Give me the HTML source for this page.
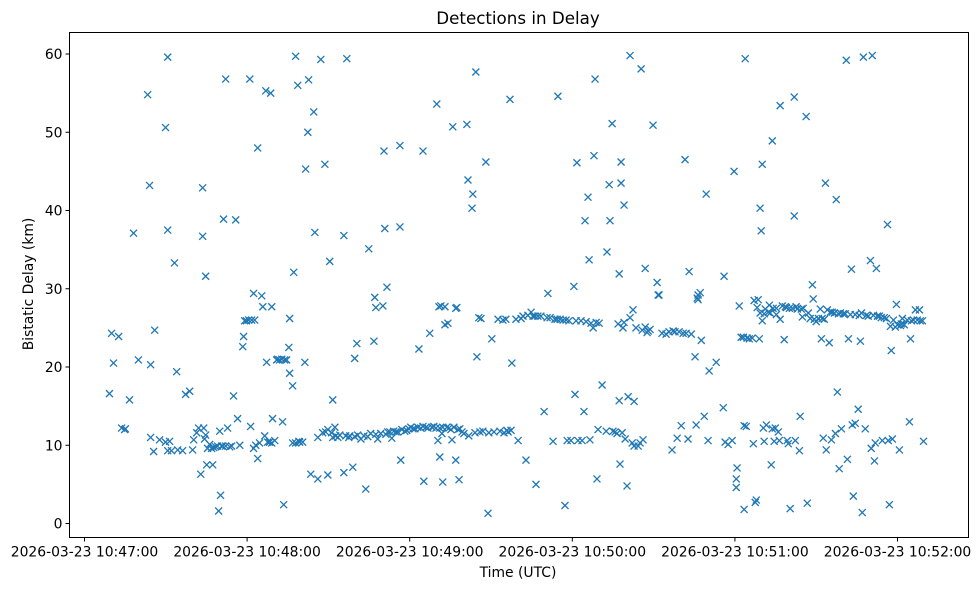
<!DOCTYPE html>
<html><head><meta charset="utf-8">
<style>
body{margin:0;background:#fff;}
svg{display:block;font-family:"DejaVu Sans","Liberation Sans",sans-serif;}
</style></head>
<body>
<svg id="chart" width="979" height="590">
<text x="518" y="24" text-anchor="middle" font-size="16.7">Detections in Delay</text>
<text x="518" y="577" text-anchor="middle" font-size="13.9">Time (UTC)</text>
<text transform="translate(33,284) rotate(-90)" text-anchor="middle" font-size="13.9">Bistatic Delay (km)</text>
<g id="marks"></g>
<g id="axes"></g>
</svg>
<script>
const xTickLabels=["2026-03-23 10:47:00","2026-03-23 10:48:00","2026-03-23 10:49:00","2026-03-23 10:50:00","2026-03-23 10:51:00","2026-03-23 10:52:00"];
const xTickSeconds=[0,60,120,180,240,300];
const yTicks=[0,10,20,30,40,50,60];
// seconds after 10:47:00
const times=[9.2,10.0,10.7,12.6,13.7,14.8,15.1,16.6,18.1,19.9,23.3,24.0,24.4,24.4,25.5,25.9,27.7,29.9,30.7,30.7,29.9,30.7,31.4,32.1,33.2,34.0,34.4,36.2,37.3,38.8,39.9,40.3,41.4,42.1,42.9,43.6,43.6,44.0,44.3,44.7,44.7,45.1,45.4,46.2,46.9,47.3,47.7,48.4,49.1,49.5,49.9,50.2,50.6,51.0,51.3,52.1,52.1,52.8,53.6,54.3,55.0,55.8,56.5,57.3,58.4,58.7,59.1,59.8,60.6,61.0,61.3,61.7,62.4,62.4,62.8,63.2,63.9,63.9,64.6,65.4,65.8,66.5,66.9,67.2,67.6,68.3,68.7,69.1,69.1,69.4,70.2,70.9,71.3,72.0,72.8,73.1,73.5,73.9,74.6,75.4,75.7,75.7,76.8,76.8,77.2,77.9,77.9,78.7,79.1,79.4,80.5,81.3,81.6,82.4,82.7,83.5,84.6,85.0,86.1,86.1,87.2,87.9,88.7,89.0,89.8,89.8,90.5,91.2,91.6,91.6,92.4,92.7,93.5,94.2,95.7,95.7,96.4,96.8,97.5,97.9,99.0,99.7,99.7,100.5,100.8,102.0,103.1,103.8,104.5,104.9,105.6,106.8,107.1,107.5,107.5,108.2,109.3,110.1,110.5,110.8,111.2,111.6,111.9,112.7,113.4,114.1,114.9,115.6,116.4,116.4,116.7,117.1,118.2,118.9,119.7,120.4,121.2,121.9,123.0,123.4,124.1,124.9,124.9,125.2,126.0,126.7,127.4,128.2,128.9,129.7,130.0,130.4,130.8,131.1,131.1,131.5,131.9,132.2,132.2,133.0,133.0,133.7,134.1,134.5,135.2,135.6,135.9,136.3,137.0,137.0,137.4,137.8,138.2,138.5,139.3,140.0,141.1,141.5,141.8,143.0,143.3,144.1,144.4,144.8,145.5,145.9,146.3,147.0,148.1,148.9,149.2,150.3,151.1,152.6,153.3,154.4,154.8,155.5,155.9,156.3,157.0,157.4,157.7,159.2,160.0,161.1,161.8,162.9,163.6,164.8,165.5,166.2,166.6,167.3,168.4,169.6,170.7,171.0,171.8,172.9,173.6,174.4,174.7,175.5,176.6,177.3,177.7,178.1,178.8,179.5,180.6,181.0,181.4,181.7,182.1,183.2,183.6,184.3,184.7,185.1,185.8,186.2,186.5,186.9,187.7,188.0,188.4,188.8,189.1,189.5,189.9,191.0,192.5,192.8,193.6,193.9,194.7,195.0,195.8,196.5,196.9,197.3,197.3,197.6,198.0,198.0,198.4,198.7,199.1,199.1,199.5,200.2,200.6,201.3,201.3,202.1,202.4,202.8,202.8,203.5,204.3,205.0,205.4,205.8,206.1,206.9,206.9,207.6,208.0,208.7,209.8,211.3,211.7,212.0,213.1,214.6,215.7,216.8,217.2,217.9,218.7,219.4,220.2,220.9,221.6,222.0,222.7,223.1,223.9,225.3,225.7,226.1,226.4,226.4,227.2,227.6,228.7,229.4,230.1,230.5,233.1,235.7,236.0,236.4,237.5,239.0,239.7,240.5,240.5,240.8,241.6,242.3,243.1,243.4,243.4,243.8,244.2,244.5,245.3,246.4,246.8,247.1,247.5,247.9,248.2,248.6,249.0,249.3,249.3,249.7,250.1,250.1,250.5,250.8,250.8,251.2,251.6,252.3,252.7,253.0,253.4,253.8,253.8,254.1,254.5,254.9,255.3,255.3,256.0,256.4,256.7,256.7,257.5,258.2,258.6,259.0,259.3,259.7,260.1,260.4,261.2,261.9,261.9,262.3,262.6,263.0,263.8,264.1,264.5,264.9,265.2,266.3,266.7,267.1,267.8,268.6,268.9,269.3,270.0,270.8,271.5,271.9,272.2,272.6,273.0,273.4,273.7,274.1,274.8,275.2,275.6,275.9,276.7,277.1,277.4,277.8,278.2,278.5,278.9,279.3,280.0,280.7,281.1,281.5,281.9,282.6,283.0,283.3,283.7,284.4,284.4,285.5,285.9,286.3,286.7,287.0,287.4,288.1,288.5,289.2,290.0,290.3,290.7,291.1,291.5,291.8,292.2,292.6,293.3,294.0,294.4,295.1,295.9,296.3,296.6,297.0,297.4,297.7,298.1,298.5,299.2,299.6,300.0,300.7,301.1,301.4,301.8,302.5,303.6,304.4,304.8,305.1,305.9,306.6,307.3,308.1,308.4,309.2,309.6];
// bistatic delay in km
const delays=[16.6,24.3,20.5,23.9,12.2,12.0,12.1,15.8,37.1,20.9,54.8,43.2,20.3,11.0,9.2,24.7,10.7,50.6,59.6,37.5,10.4,9.3,10.5,9.3,33.3,19.4,9.4,9.3,16.5,16.9,9.4,10.7,11.6,12.2,6.3,42.9,36.7,12.2,10.8,31.6,11.3,7.5,9.6,10.1,9.6,7.5,9.7,9.8,9.9,1.6,11.8,3.6,9.9,9.9,38.9,9.9,56.8,12.2,9.8,9.9,16.3,38.8,13.4,10.0,22.6,23.9,25.9,25.9,26.0,56.8,12.4,26.0,29.4,9.6,26.0,10.0,48.0,8.3,10.3,29.1,27.7,11.2,55.3,20.6,10.4,10.4,55.0,27.7,10.3,13.4,10.6,20.9,21.0,20.9,21.0,13.0,2.4,20.9,20.9,22.5,26.2,19.2,17.6,10.3,32.1,59.7,10.3,56.0,10.5,10.4,10.4,20.6,45.3,50.0,56.7,6.3,52.6,37.2,5.7,11.0,59.3,11.6,45.9,11.7,6.2,12.0,33.5,11.6,11.0,15.8,12.3,11.2,11.0,11.3,36.8,6.5,11.2,59.4,11.0,11.2,7.2,11.1,21.1,23.0,11.3,10.8,11.2,4.4,11.1,35.1,11.5,23.3,28.9,27.6,11.4,10.8,11.5,27.8,47.6,37.7,11.4,30.2,11.7,11.7,10.9,11.8,11.7,11.7,48.3,37.9,8.1,12.0,11.8,11.9,12.1,12.3,12.1,12.1,12.3,22.3,12.2,12.4,47.6,5.4,12.3,12.2,24.3,12.3,12.4,12.2,53.6,10.6,27.7,8.5,12.2,27.8,11.5,5.3,12.3,27.7,25.4,12.3,25.6,12.2,12.0,10.7,50.7,12.3,8.1,27.5,27.6,12.0,5.6,12.1,11.7,11.5,51.0,43.9,11.2,40.3,42.1,11.6,57.7,21.3,26.3,11.7,26.2,11.8,46.2,1.3,11.6,23.6,11.7,26.1,11.8,26.0,11.6,26.1,11.9,11.7,54.2,11.9,20.5,26.1,10.6,26.2,26.5,8.1,26.6,27.0,26.5,26.5,5.0,26.5,26.5,14.3,26.3,29.4,26.3,10.5,26.1,26.1,54.6,26.1,26.0,2.3,26.0,10.6,25.9,10.6,30.3,16.5,25.9,46.1,10.6,25.9,10.6,14.3,38.7,25.8,41.7,33.7,10.7,25.6,25.0,47.0,56.8,25.7,5.7,12.0,25.6,17.7,11.8,34.7,43.3,38.7,51.1,11.8,11.7,11.5,25.5,15.7,31.9,7.6,46.2,43.5,11.6,25.0,40.7,25.7,10.8,4.8,16.2,26.3,59.8,10.3,27.3,15.6,9.9,25.0,9.9,10.3,58.1,24.7,10.7,32.6,25.1,24.4,24.6,24.8,50.9,30.8,29.2,29.2,24.3,24.2,24.5,9.4,24.6,24.5,10.9,24.5,12.5,24.3,46.5,24.3,10.8,32.2,24.2,21.3,12.6,28.8,29.2,28.6,29.5,23.4,13.7,42.1,10.6,19.5,20.6,14.8,31.6,10.4,10.1,10.6,45.0,5.7,4.6,7.1,27.8,23.8,23.8,12.5,1.8,59.4,12.4,23.7,23.6,23.7,10.2,28.5,2.7,3.0,27.6,28.6,23.6,26.9,40.3,37.4,45.9,25.9,12.2,26.8,10.5,27.4,12.6,27.0,27.9,26.9,7.5,48.9,12.1,27.5,10.5,12.2,27.5,26.7,11.7,10.6,53.4,26.1,27.8,23.5,27.7,27.6,10.6,10.2,27.5,1.9,27.5,39.3,54.5,10.6,27.7,27.4,9.3,13.7,27.4,26.4,27.5,52.0,2.6,26.9,26.2,30.5,28.7,26.1,25.8,26.2,27.4,23.6,26.2,10.9,26.1,43.5,9.4,27.3,23.1,27.0,10.7,27.0,26.9,11.5,41.4,16.8,26.8,7.0,26.9,12.1,26.8,26.8,59.2,8.2,23.6,26.7,32.5,12.6,3.5,26.7,12.8,14.6,26.6,23.3,26.9,1.4,59.6,12.1,26.6,26.5,33.6,9.6,59.8,26.6,8.0,10.3,32.6,26.5,26.5,26.3,10.6,26.3,26.2,38.2,10.6,2.4,25.2,22.1,10.8,26.0,25.1,28.0,25.4,9.4,25.3,25.5,26.2,25.4,26.0,13.0,23.6,25.9,26.0,27.3,26.0,27.3,25.9,25.9,10.5];

const NS='http://www.w3.org/2000/svg';
const L=69.5,R=968.5,T=32.5,B=537.5;
function xs(t){return 84.5+t*2.71;}
function ys(v){return 523.5-v*7.825;}
const marks=document.getElementById('marks');
const axes=document.getElementById('axes');
function mk(tag,attrs,parent){const e=document.createElementNS(NS,tag);for(const k in attrs)e.setAttribute(k,attrs[k]);parent.appendChild(e);return e;}
for(let i=0;i<times.length;i++){
  const x=xs(times[i]),y=ys(delays[i]),h=3.5;
  const p=mk('path',{d:`M${x-h},${y-h}L${x+h},${y+h}M${x-h},${y+h}L${x+h},${y-h}`,stroke:'#1f77b4','stroke-width':1.3,fill:'none'},marks);
  
  
}
const frame=mk('rect',{x:L,y:T,width:R-L,height:B-T,fill:'none',stroke:'#000','stroke-width':1},axes);


for(let i=0;i<xTickSeconds.length;i++){
  const x=xs(xTickSeconds[i]);
  mk('line',{x1:x,x2:x,y1:B,y2:B+4,stroke:'#000','stroke-width':1},axes);
  const t=mk('text',{x:x,y:B+19,'text-anchor':'middle','font-size':13.9},axes);
  t.textContent=xTickLabels[i];
  
  
}
for(let i=0;i<yTicks.length;i++){
  const y=ys(yTicks[i]);
  mk('line',{x1:L-4,x2:L,y1:y,y2:y,stroke:'#000','stroke-width':1},axes);
  const t=mk('text',{x:L-7,y:y+5,'text-anchor':'end','font-size':13.9},axes);
  t.textContent=String(yTicks[i]);
  
  
}
</script>
</body></html>
